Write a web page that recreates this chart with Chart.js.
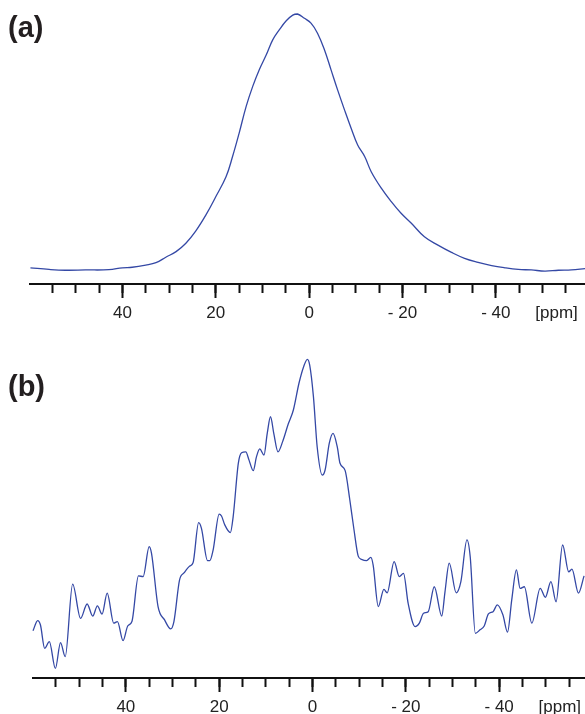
<!DOCTYPE html>
<html>
<head>
<meta charset="utf-8">
<script src="https://cdn.jsdelivr.net/npm/chart.js@4/dist/chart.umd.min.js"></script>
<style>
  html, body { margin: 0; padding: 0; background: #fff; }
  body { width: 585px; height: 714px; position: relative; overflow: hidden; }
  canvas { position: absolute; left: 0; }
</style>
</head>
<body>
<canvas id="chartA" width="585" height="330" style="top:0px"></canvas>
<canvas id="chartB" width="585" height="374" style="top:340px"></canvas>
<script>
// chemical shift (ppm) and intensity (% of peak)
const aPpm = [59.7, 55.7, 52.2, 47.9, 42.9, 40.0, 37.9, 35.0, 32.8, 30.7, 28.5, 26.4, 24.3, 22.1, 20.0,
  17.8, 16.4, 15.0, 13.5, 12.1, 10.7, 9.2, 7.8, 6.4, 4.9, 3.5, 2.5, 1.0, -0.4, -1.8, -3.3, -4.7, -6.1,
  -7.6, -9.0, -10.4, -11.9, -13.3, -15.5, -17.6, -19.7, -21.9, -24.7, -27.6, -30.5, -33.3, -36.2,
  -39.1, -41.9, -44.8, -47.6, -50.5, -53.4, -56.2, -59.1];
const aInt = [6.0, 5.4, 5.1, 5.2, 5.3, 6.0, 6.2, 7.0, 7.9, 9.9, 12.0, 15.1, 19.6, 25.6, 32.3,
  39.7, 47.2, 55.8, 65.7, 73.1, 79.3, 84.8, 90.4, 94.1, 97.5, 99.6, 100, 98.4, 96.6, 92.9, 86.7, 79.3, 71.9,
  64.4, 57.7, 51.5, 47.2, 41.6, 35.4, 30.5, 26.2, 22.5, 17.5, 14.4, 11.7, 9.5, 8.0,
  6.8, 6.0, 5.4, 5.2, 4.8, 5.1, 5.2, 5.7];

const bPpm = [59.9, 58.9, 58.3, 57.4, 56.4, 55.1, 54.0, 53.0, 51.4, 49.7, 48.3, 47.1, 46.1, 45.1, 44.0,
  42.6, 41.8, 40.6, 39.6, 38.7, 37.3, 36.3, 35.0, 34.5, 33.1, 31.7, 30.4, 29.7, 28.5, 27.5, 26.3, 25.6,
  24.4, 23.8, 22.5, 22.0, 21.3, 20.0, 19.5, 18.8, 17.6, 17.0, 15.9, 15.2, 14.3, 13.6, 12.7, 12.0, 11.3,
  10.4, 9.7, 9.0, 8.3, 7.4, 6.4, 5.2, 4.1, 2.9, 1.9, 1.1, 0.6, -0.2, -1.0, -2.1, -2.7, -3.6, -4.4, -5.3,
  -5.9, -7.0, -8.0, -8.9, -9.8, -10.5, -11.6, -12.5, -13.0, -14.1, -15.3, -16.0, -17.5, -18.6, -19.5,
  -20.5, -22.0, -22.9, -23.8, -24.8, -26.1, -27.7, -28.4, -29.3, -30.8, -31.8, -33.1, -33.8, -34.9,
  -35.9, -36.8, -37.7, -38.7, -39.6, -40.8, -41.8, -42.7, -43.7, -44.5, -45.4, -47.0, -48.8, -49.9,
  -51.1, -52.2, -53.6, -54.9, -55.6, -57.0, -58.2];
const bInt = [14.8, 18.0, 16.6, 9.3, 11.4, 3.0, 11.1, 6.7, 29.4, 18.7, 23.2, 19.4, 22.6, 20.0, 26.6,
  17.2, 17.7, 11.7, 16.3, 17.7, 32.0, 31.8, 41.2, 39.1, 22.4, 18.2, 15.4, 17.7, 30.7, 33.0, 35.1, 36.1,
  48.7, 46.9, 36.8, 36.8, 40.1, 51.4, 50.8, 48.0, 45.6, 50.6, 67.3, 70.6, 70.9, 68.3, 65.0, 69.4, 71.8,
  69.9, 76.7, 81.9, 76.7, 70.9, 74.1, 79.6, 84.0, 92.4, 97.6, 99.9, 98.1, 88.2, 72.5, 63.6, 65.2, 73.6, 76.7, 72.5,
  67.3, 65.0, 55.8, 46.4, 38.2, 37.2, 36.8, 37.8, 35.4, 22.4, 27.8, 26.7, 36.5, 31.8, 32.8,
  23.4, 16.1, 17.2, 20.3, 20.8, 28.6, 19.4, 27.1, 36.0, 26.7, 30.2, 43.3, 38.0, 14.0,
  15.1, 16.3, 20.1, 20.8, 22.9, 19.8, 14.4, 24.5, 33.9, 28.1, 28.6, 17.2, 28.1, 25.3,
  30.2, 23.9, 41.7, 33.3, 34.1, 26.6, 32.0];

// axis ticks (ppm)
const majorTicks = [40, 20, 0, -20, -40];
const minorTicks = [55, 50, 45, 40, 35, 30, 25, 20, 15, 10, 5, 0, -5, -10, -15, -20, -25, -30, -35, -40, -45, -50, -55];

const fontFamily = '"Liberation Sans", Arial, sans-serif';
const lineColor = 'rgb(52, 72, 165)';
const axisColor = '#111';

const panelText = {
  id: 'panelText',
  afterDraw(chart, args, opts) {
    const ctx = chart.ctx;
    const xs = chart.scales.x;
    ctx.save();
    ctx.fillStyle = '#231f20';
    ctx.textBaseline = 'middle';
    ctx.textAlign = 'left';
    ctx.font = 'bold 29px ' + fontFamily;
    ctx.fillText(opts.label, 8, opts.labelY);
    ctx.fillStyle = '#222';
    ctx.textAlign = 'center';
    ctx.font = '17px ' + fontFamily;
    ctx.fillText('[ppm]', xs.getPixelForValue(-53), xs.top + 14 + 5 + 10);
    ctx.restore();
  }
};

function makeSpectrum(id, label, labelY, ppm, intensity, xMin, padLeft, padTop, padBottom, axisHeight, smooth) {
  const points = ppm.map((p, i) => ({ x: p, y: intensity[i] }));
  return new Chart(document.getElementById(id), {
    type: 'line',
    data: {
      datasets: [{
        data: points,
        borderColor: lineColor,
        borderWidth: 1.3,
        pointRadius: 0,
        tension: 0.4,
        cubicInterpolationMode: smooth,
        fill: false,
        clip: false
      }]
    },
    options: {
      responsive: false,
      animation: false,
      layout: { padding: { left: padLeft, right: 0, top: padTop, bottom: padBottom } },
      plugins: {
        legend: { display: false },
        tooltip: { enabled: false },
        panelText: { label: label, labelY: labelY }
      },
      scales: {
        x: {
          type: 'linear', position: 'bottom', reverse: true, min: xMin, max: 59.9, weight: 0,
          afterBuildTicks: s => { s.ticks = minorTicks.map(v => ({ value: v })); },
          afterFit: s => { s.height = 0; },
          ticks: { display: false },
          grid: { drawOnChartArea: false, tickLength: 9, tickWidth: 2, tickColor: axisColor },
          border: { display: true, color: axisColor, width: 2 }
        },
        xMajor: {
          type: 'linear', position: 'bottom', reverse: true, min: xMin, max: 59.9, weight: 1,
          afterBuildTicks: s => { s.ticks = majorTicks.map(v => ({ value: v })); },
          afterFit: s => { s.height = axisHeight; },
          ticks: {
            autoSkip: false, maxRotation: 0, padding: 5, color: '#222',
            font: { size: 17, family: fontFamily },
            callback: v => v < 0 ? '- ' + Math.abs(v) : String(v)
          },
          grid: { drawOnChartArea: false, tickLength: 14, tickWidth: 2, tickColor: axisColor },
          border: { display: false }
        },
        y: { display: false, min: 0, max: 100 }
      }
    },
    plugins: [panelText]
  });
}

makeSpectrum('chartA', '(a)', 29, aPpm, aInt, -59.1, 29.5, 14, 6, 40, 'default');
makeSpectrum('chartB', '(b)', 48, bPpm, bInt, -58.4, 33, 19, 0, 36, 'monotone');
</script>
</body>
</html>
